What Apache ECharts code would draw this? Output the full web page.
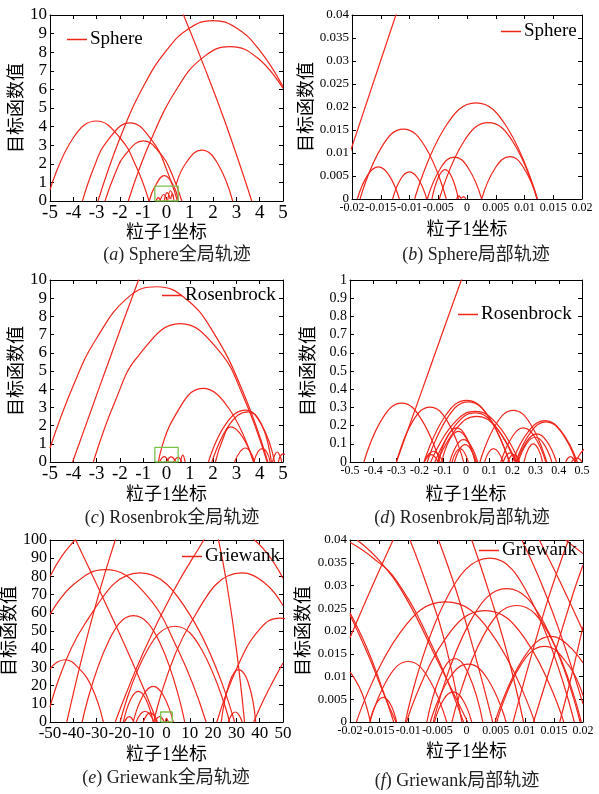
<!DOCTYPE html>
<html><head><meta charset="utf-8">
<script src="https://cdn.jsdelivr.net/npm/echarts@6/dist/echarts.min.js"></script>
<style>html,body{margin:0;padding:0;background:#fff}#c{width:599px;height:794px}</style>
</head><body><div id="c"></div>
<script>
// ---------- DATA ----------
const functionNames = ['Sphere', 'Sphere', 'Rosenbrock', 'Rosenbrock', 'Griewank', 'Griewank'];
const captionLetters = ['a', 'b', 'c', 'd', 'e', 'f'];
const captionTexts = ['Sphere全局轨迹', 'Sphere局部轨迹', 'Rosenbrok全局轨迹', 'Rosenbrok局部轨迹', 'Griewank全局轨迹', 'Griewank局部轨迹'];
const xAxisTitle = '粒子1坐标';
const yAxisTitle = '目标函数值';
// axis ranges: [min, max, interval]
const xRanges = [[-5, 5, 1], [-0.02, 0.02, 0.005], [-5, 5, 1], [-0.5, 0.5, 0.1], [-50, 50, 10], [-0.02, 0.02, 0.005]];
const yRanges = [[0, 10, 1], [0, 0.04, 0.005], [0, 10, 1], [0, 1, 0.1], [0, 100, 10], [0, 0.04, 0.005]];

const sphereGlobalArcs = [
  [[-5, 0.6], [-4, 3.4], [-3, 4.3], [-2, 3.4], [-1.3, 1.85], [-0.75, 0]],
  [[-3.61, 0], [-3.1, 1.85], [-2.6, 3.13], [-1.57, 4.2], [-0.55, 3.13], [0, 1.7], [0.47, 0]],
  [[-2.64, 0], [-2.2, 1.49], [-1.8, 2.45], [-0.99, 3.23], [-0.2, 2.45], [0.22, 1.49], [0.66, 0]],
  [[-0.74, 0], [-0.5, 0.77], [-0.09, 1.36], [0.32, 0.77], [0.51, 0]],
  [[0.41, 0.87], [0.85, 2.07], [1.51, 2.74], [2.17, 2.07], [2.84, 0]],
  [[0.6, 10.4], [1.5, 7.6], [2.5, 4.3], [3.66, 0]],
  [[-2.94, 0], [-2, 3.37], [-1, 6.14], [0, 8.1], [1, 9.3], [2, 9.7], [3, 9.3], [4, 8.1], [5, 6.15]],
  [[-1.64, 0], [-0.7, 3.19], [0.5, 6.14], [1.6, 7.75], [2.73, 8.3], [3.9, 7.7], [5, 6.06]],
  [[-0.45, 0], [-0.35, 0.18], [-0.25, 0]],
  [[-0.28, 0], [-0.12, 0.35], [0.02, 0]],
  [[-0.1, 0], [0.03, 0.45], [0.16, 0.1]],
  [[0.05, 0], [0.17, 0.55], [0.3, 0.2]],
  [[0.18, 0.1], [0.25, 0.4], [0.32, 0]]
];
const sphereGlobalBox = [[-0.5, 0], [-0.5, 0.8], [0.5, 0.8], [0.5, 0], [-0.5, 0]];

const sphereLocalArcs = [
  [[-0.0205, 0.0095], [-0.0121, 0.041]],
  [[-0.01907, 0], [-0.01725, 0.00525], [-0.01542, 0.007], [-0.0136, 0.00525], [-0.01177, 0]],
  [[-0.0186, 0], [-0.0148, 0.0114], [-0.01107, 0.0152], [-0.0073, 0.0114], [-0.0036, 0]],
  [[-0.01293, 0], [-0.0115, 0.0044], [-0.01003, 0.0059], [-0.0085, 0.0044], [-0.007, 0]],
  [[-0.0069, 0], [-0.00455, 0.0068], [-0.0022, 0.0091], [0.00018, 0.0068], [0.00255, 0]],
  [[-0.0061, 0], [-0.00495, 0.0048], [-0.0038, 0.0064], [-0.00265, 0.0048], [-0.0015, 0]],
  [[-0.0091, 0], [-0.00377, 0.0157], [0.00157, 0.0209], [0.0069, 0.0157], [0.01223, 0]],
  [[-0.0048, 0], [-0.00055, 0.0125], [0.0037, 0.0166], [0.00795, 0.0125], [0.0122, 0]],
  [[0.00255, 0], [0.005, 0.0069], [0.00748, 0.0092], [0.0098, 0.0069], [0.0122, 0]],
  [[-0.0018, 0], [-0.0014, 0.0007], [-0.001, 0.0002], [-0.0006, 0.0005], [-0.0002, 0]]
];

const rosenGlobalArcs = [
  [[-5, 0.77], [-4, 4.2], [-3, 6.8], [-1.6, 9.1], [-0.42, 9.63], [0.8, 9.0], [2, 7.15], [3.3, 3.8], [4.35, 0]],
  [[-3.14, 0], [-2.2, 3.35], [-1.2, 5.85], [0.59, 7.6], [2.2, 6.19], [3.3, 3.59], [4.32, 0]],
  [[-4.03, 0], [-2.6, 5.1], [-1.2, 10], [-1.0, 10.6]],
  [[-0.35, 0], [0.3, 2.4], [1.55, 4.04], [2.7, 2.9], [3.74, 0]],
  [[1.8, 0], [2.55, 2.1], [3.4, 2.85], [4.1, 2.0], [4.64, 0]],
  [[1.95, 0], [2.7, 2.05], [3.5, 2.75], [4.1, 2.0], [4.5, 0]],
  [[2.1, 0], [2.4, 1.2], [2.75, 1.93], [3.25, 1.4], [3.74, 0]],
  [[2.92, 0], [3.15, 0.55], [3.38, 0.77], [3.6, 0.55], [3.78, 0]],
  [[3.75, 0], [3.92, 0.55], [4.1, 0.73], [4.3, 0.55], [4.45, 0]],
  [[4.55, 0], [4.65, 0.4], [4.75, 0.55], [4.85, 0.4], [4.95, 0]],
  [[4.8, 0], [4.9, 0.35], [5.0, 0.45], [5.1, 0.4]],
  [[-0.3, 0], [-0.1, 0.3], [0.1, 0]],
  [[0, 0], [0.2, 0.28], [0.4, 0]],
  [[0.3, 0], [0.5, 0.25], [0.65, 0]],
  [[0.6, 0], [0.7, 0.38], [0.8, 0]]
];
const rosenGlobalBox = [[-0.5, 0], [-0.5, 0.8], [0.5, 0.8], [0.5, 0], [-0.5, 0]];

const rosenLocalArcs = [
  [[-0.3, 0], [-0.16, 0.5], [-0.02, 1.0], [0.0, 1.06]],
  [[-0.44, 0], [-0.36, 0.24], [-0.277, 0.324], [-0.195, 0.24], [-0.112, 0]],
  [[-0.30, 0], [-0.228, 0.227], [-0.155, 0.302], [-0.082, 0.227], [-0.01, 0]],
  [[-0.181, 0], [-0.089, 0.254], [0.003, 0.339], [0.095, 0.254], [0.187, 0]],
  [[-0.167, 0], [-0.078, 0.247], [0.01, 0.33], [0.098, 0.247], [0.187, 0]],
  [[-0.152, 0], [-0.056, 0.208], [0.039, 0.278], [0.134, 0.208], [0.23, 0]],
  [[-0.134, 0], [-0.047, 0.2], [0.039, 0.27], [0.125, 0.2], [0.212, 0]],
  [[-0.124, 0], [-0.039, 0.188], [0.046, 0.251], [0.131, 0.188], [0.216, 0]],
  [[0.06, 0], [0.132, 0.213], [0.204, 0.284], [0.276, 0.213], [0.348, 0]],
  [[0.2, 0], [0.27, 0.17], [0.34, 0.227], [0.41, 0.17], [0.48, 0]],
  [[0.215, 0], [0.28, 0.165], [0.345, 0.22], [0.41, 0.165], [0.475, 0]],
  [[0.15, 0], [0.2, 0.14], [0.247, 0.187], [0.295, 0.14], [0.344, 0]],
  [[0.22, 0], [0.263, 0.115], [0.305, 0.154], [0.348, 0.115], [0.39, 0]],
  [[0.225, 0], [0.262, 0.102], [0.298, 0.136], [0.334, 0.102], [0.37, 0]],
  [[-0.12, 0], [-0.08, 0.14], [-0.04, 0.187], [0, 0.14], [0.04, 0]],
  [[-0.105, 0], [-0.069, 0.126], [-0.033, 0.168], [0.003, 0.126], [0.04, 0]],
  [[-0.07, 0], [-0.04, 0.092], [-0.011, 0.123], [0.02, 0.092], [0.05, 0]],
  [[-0.05, 0], [-0.027, 0.071], [-0.004, 0.095], [0.02, 0.071], [0.045, 0]],
  [[-0.06, 0], [-0.043, 0.055], [-0.025, 0.073], [-0.008, 0.055], [0.01, 0]],
  [[-0.18, 0], [-0.16, 0.044], [-0.14, 0.059], [-0.12, 0.044], [-0.1, 0]],
  [[-0.18, 0], [-0.165, 0.03], [-0.15, 0.04], [-0.135, 0.03], [-0.12, 0]],
  [[0.08, 0], [0.099, 0.055], [0.118, 0.073], [0.139, 0.055], [0.16, 0]],
  [[0.18, 0], [0.192, 0.03], [0.204, 0.04], [0.217, 0.03], [0.23, 0]],
  [[0.16, 0], [0.175, 0.038], [0.19, 0.05], [0.205, 0.038], [0.22, 0]],
  [[0.25, 0], [0.27, 0.075], [0.29, 0.1], [0.31, 0.075], [0.33, 0]],
  [[0.455, 0], [0.466, 0.016], [0.477, 0.022], [0.489, 0.016], [0.5, 0]],
  [[0.47, 0], [0.485, 0.03], [0.5, 0.059], [0.51, 0.07]],
  [[0.43, 0], [0.44, 0.022], [0.45, 0.03], [0.46, 0.022], [0.47, 0]]
];

const griewankGlobalArcs = [
  [[-50, 29], [-47, 32.8], [-43.6, 34.2], [-38, 30], [-32, 19], [-27.1, 0]],
  [[-50, 59], [-40, 75.4], [-26.4, 83.7], [-10, 71.8], [5, 39.5], [17, 0]],
  [[-50, 8], [-35, 54], [-11.4, 81.9], [10, 59], [29.2, 0]],
  [[-36.2, 0], [-25, 44], [-14.2, 58.4], [-3, 44], [7.8, 0]],
  [[-19.9, 0], [-8, 40], [3.6, 52.6], [15, 40], [27.1, 0]],
  [[-5.5, 0], [10, 53.6], [32.3, 81.9], [42, 76.5], [50, 64]],
  [[21.6, 0], [30, 29], [40, 51], [48.7, 57.1], [52, 56.5]],
  [[23.5, 0], [27, 21.5], [30.8, 28.8], [35, 22], [38.3, 0]],
  [[-14.3, 0], [-10, 14.7], [-5.7, 19.6], [-1.4, 14.7], [2.9, 0]],
  [[-18.5, 0], [-15.3, 12.6], [-12.1, 16.8], [-8.9, 12.6], [-5.7, 0]],
  [[-13, 0], [-11.1, 4.4], [-9.2, 5.9], [-7.3, 4.4], [-5.4, 0]],
  [[-10, 0], [-8.5, 3.8], [-7, 5], [-5.5, 3.8], [-4, 0]],
  [[-5, 0], [-4, 2.2], [-3, 3], [-2, 2.2], [-1, 0]],
  [[-18, 0], [-17, 2.2], [-16, 3], [-15, 2.2], [-14, 0]],
  [[26.5, 0], [28, 4.1], [29.5, 5.5], [31, 4.1], [32.5, 0]],
  [[37.4, 0], [42, 13], [46, 23], [50, 32.4]],
  [[-42.8, 0], [-35, 42], [-28, 75], [-22, 100], [-21, 104]],
  [[-50, 80], [-45, 91], [-39.3, 100], [-38, 102]],
  [[-39, 100], [-25, 62], [-13, 28], [-4, 0]],
  [[-22, 0], [-10, 38], [3, 72], [16, 100], [17, 102]],
  [[36, 102], [43, 93], [50, 79]],
  [[22, 102], [26, 75], [30, 40], [33.5, 0]],
  [[-0.5, 0], [0, 2], [0.7, 0.5], [1.2, 0]]
];
const griewankGlobalBox = [[-2.5, 0], [-2.5, 5.5], [2.5, 5.5], [2.5, 0], [-2.5, 0]];

const griewankLocalArcs = [
  [[-0.0105, 0], [-0.0035, 0.027], [0.004, 0.036], [0.011, 0.027], [0.0185, 0]],
  [[-0.0057, 0], [0.0006, 0.022], [0.0069, 0.0293], [0.0132, 0.022], [0.0195, 0]],
  [[-0.0025, 0], [0.003, 0.0192], [0.0086, 0.0256], [0.0142, 0.0192], [0.0197, 0]],
  [[-0.0189, 0], [-0.0113, 0.0198], [-0.0036, 0.0264], [0.0041, 0.0198], [0.0117, 0]],
  [[-0.0103, 0], [-0.0036, 0.0184], [0.0032, 0.0245], [0.01, 0.0184], [0.0167, 0]],
  [[0.0049, 0], [0.0098, 0.0141], [0.0146, 0.0188], [0.02, 0.013]],
  [[0.0052, 0], [0.0093, 0.0125], [0.0134, 0.0166], [0.0175, 0.0125], [0.02, 0.0058]],
  [[-0.0166, 0], [-0.0133, 0.01], [-0.01, 0.0133], [-0.0067, 0.01], [-0.0034, 0]],
  [[-0.0068, 0], [-0.0044, 0.0104], [-0.002, 0.0139], [0.0004, 0.0104], [0.0028, 0]],
  [[-0.0062, 0], [-0.003, 0.0095], [0.0003, 0.0127], [0.0036, 0.0095], [0.0068, 0]],
  [[-0.0055, 0], [-0.0039, 0.005], [-0.0023, 0.0066], [-0.0007, 0.005], [0.0009, 0]],
  [[-0.0166, 0], [-0.0155, 0.004], [-0.0143, 0.0054], [-0.0131, 0.004], [-0.012, 0]],
  [[-0.02, 0.0395], [-0.016, 0.036], [-0.012, 0.031], [-0.006, 0.017], [-0.0005, 0]],
  [[-0.0188, 0.04], [-0.015, 0.0355], [-0.0105, 0.0275], [-0.005, 0.0135], [0.0002, 0]],
  [[-0.02, 0.024], [-0.017, 0.016], [-0.0145, 0.0075], [-0.0125, 0]],
  [[-0.02, 0.0235], [-0.0168, 0.0145], [-0.0143, 0.0065], [-0.0121, 0]],
  [[-0.02, 0.0185], [-0.0163, 0.0295], [-0.0126, 0.04]],
  [[-0.02, 0.011], [-0.018, 0.0065], [-0.0165, 0]],
  [[-0.0097, 0.04], [-0.0068, 0.03], [-0.0038, 0.018], [-0.0008, 0]],
  [[-0.0048, 0.04], [-0.0018, 0.029], [0.0012, 0.016], [0.0045, 0]],
  [[0.0009, 0.04], [0.004, 0.028], [0.007, 0.015], [0.0098, 0]],
  [[0.0095, 0.04], [0.013, 0.03], [0.0165, 0.018], [0.02, 0.004]],
  [[0.0125, 0.04], [0.016, 0.031], [0.02, 0.02]],
  [[0.008, 0], [0.011, 0.014], [0.014, 0.027], [0.0175, 0.04]],
  [[0.0115, 0], [0.015, 0.0145], [0.0185, 0.029], [0.02, 0.0345]],
  [[0.016, 0], [0.018, 0.01], [0.02, 0.021]],
  [[0.017, 0.04], [0.0185, 0.0385], [0.02, 0.037]]
];

const panelArcs = [sphereGlobalArcs, sphereLocalArcs, rosenGlobalArcs, rosenLocalArcs, griewankGlobalArcs, griewankLocalArcs];
const panelBoxes = [sphereGlobalBox, null, rosenGlobalBox, null, griewankGlobalBox, null];

// ---------- LAYOUT / STYLE ----------
const RED = '#f0261c';
const GREEN = '#79c04a';
const SERIF = "'Liberation Serif','Noto Sans CJK SC',serif";
const grids = [
  {left: 50, top: 15, width: 233, height: 186},
  {left: 352, top: 15, width: 230, height: 184},
  {left: 50, top: 280, width: 233, height: 182},
  {left: 350, top: 280, width: 232, height: 182},
  {left: 50, top: 540, width: 233, height: 182},
  {left: 350, top: 540, width: 233, height: 182}
];
const xLabelSize = [19, 12, 19, 12, 17, 12];
const yLabelSize = [17, 13, 17, 14, 16, 13];
const yNameGap = [22, 36, 22, 32, 25, 37];
const xNameGap = [20, 22, 24, 24, 24, 21];
const legendPos = [[67, 30], [501, 22], [162, 286], [458, 305], [182, 547], [479, 541]];
const captionPos = [[177, 246], [476, 246], [172, 509], [462, 509], [166, 769], [457, 772]];

const option = {
  backgroundColor: '#fff',
  animation: false,
  grid: grids.map(g => Object.assign({containLabel: false}, g)),
  xAxis: [], yAxis: [], series: [], legend: [], title: []
};
const black = {color: '#000', width: 1};
grids.forEach((g, i) => {
  const [xmin, xmax, xint] = xRanges[i];
  const [ymin, ymax, yint] = yRanges[i];
  const common = {gridIndex: i, type: 'value', splitLine: {show: false},
    axisLine: {show: true, onZero: false, lineStyle: black},
    axisTick: {show: true, inside: true, length: 4, lineStyle: black}};
  option.xAxis.push(Object.assign({}, common, {min: xmin, max: xmax, interval: xint, position: 'bottom',
    axisLabel: {color: '#000', fontFamily: SERIF, fontSize: xLabelSize[i], margin: 3, showMinLabel: true, showMaxLabel: true, hideOverlap: false},
    name: xAxisTitle, nameLocation: 'middle', nameGap: xNameGap[i],
    nameTextStyle: {color: '#000', fontFamily: SERIF, fontSize: 18}}));
  option.xAxis.push(Object.assign({}, common, {min: xmin, max: xmax, interval: xint, position: 'top',
    axisLabel: {show: false}}));
  option.yAxis.push(Object.assign({}, common, {min: ymin, max: ymax, interval: yint, position: 'left',
    axisLabel: {color: '#000', fontFamily: SERIF, fontSize: yLabelSize[i], margin: 3, showMinLabel: true, showMaxLabel: true, hideOverlap: false},
    name: yAxisTitle, nameLocation: 'middle', nameRotate: 90, nameGap: yNameGap[i],
    nameTextStyle: {color: '#000', fontFamily: SERIF, fontSize: 18}}));
  option.yAxis.push(Object.assign({}, common, {min: ymin, max: ymax, interval: yint, position: 'right',
    axisLabel: {show: false}}));
  panelArcs[i].forEach(arc => {
    option.series.push({type: 'line', name: functionNames[i], xAxisIndex: 2 * i, yAxisIndex: 2 * i,
      data: arc, showSymbol: false, symbol: 'none', smooth: 0.45, clip: true, silent: true,
      lineStyle: {color: RED, width: 1.2}, itemStyle: {color: RED}});
  });
  if (panelBoxes[i]) {
    option.series.push({type: 'line', name: 'box', xAxisIndex: 2 * i, yAxisIndex: 2 * i,
      data: panelBoxes[i], showSymbol: false, symbol: 'none', smooth: false, silent: true,
      lineStyle: {color: GREEN, width: 1.3}, itemStyle: {color: GREEN}});
  }
  option.legend.push({data: [functionNames[i]], left: legendPos[i][0], top: legendPos[i][1],
    icon: 'rect', itemWidth: 20, itemHeight: 1.5, itemGap: 4, padding: 0, selectedMode: false,
    textStyle: {color: '#000', fontFamily: SERIF, fontSize: 19, padding: [0, 0, 0, -2]}});
  option.title.push({text: '({i|' + captionLetters[i] + '}) ' + captionTexts[i],
    left: captionPos[i][0], top: captionPos[i][1], textAlign: 'center', padding: 0,
    textStyle: {color: '#222', fontFamily: SERIF, fontSize: 18, fontWeight: 'normal',
      rich: {i: {fontStyle: 'italic', fontFamily: SERIF, fontSize: 18, color: '#222'}}}});
});
const chart = echarts.init(document.getElementById('c'), null, {renderer: 'canvas'});
chart.setOption(option);
</script></body></html>
